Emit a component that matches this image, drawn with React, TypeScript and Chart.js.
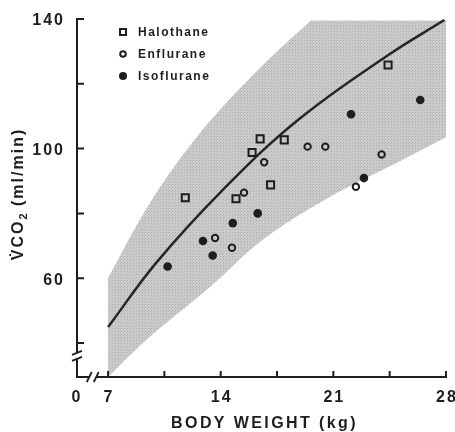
import React, { useEffect, useRef } from "react";
import { Chart, registerables } from "chart.js";

Chart.register(...registerables);

// ---------- data ----------
const halothaneWeight = [11.8, 14.95, 15.95, 16.45, 17.1, 17.95, 24.4];
const halothaneVco2 = [84.8, 84.5, 98.8, 103, 88.8, 102.7, 125.8];

const enfluraneWeight = [13.65, 14.7, 15.45, 16.7, 19.4, 20.5, 22.4, 24.0];
const enfluraneVco2 = [72.4, 69.4, 86.4, 95.8, 100.6, 100.6, 88.2, 98.2];

const isofluraneWeight = [10.7, 12.9, 13.5, 14.75, 16.3, 22.1, 22.9, 26.4];
const isofluraneVco2 = [63.6, 71.5, 67, 77, 80, 110.6, 90.9, 115];

const curveWeight = [7, 10, 14, 18.8, 24.3, 27.9];
const curveVco2 = [44.9, 64.8, 86.6, 108.8, 128.5, 139.7];

const bandUpperWeight = [7, 9.6, 12.5, 16, 19.6, 19.7, 28];
const bandUpperVco2 = [60.1, 83.2, 103.5, 122.7, 139.5, 139.5, 139.5];

const bandLowerWeight = [7, 9.6, 13.34, 16.6, 20.8, 24.95, 28];
const bandLowerVco2 = [29.5, 41.9, 57.3, 71.8, 85.1, 95.6, 103.5];

const seriesNames = ["Halothane", "Enflurane", "Isoflurane"];

const xMin = 5.07;
const xMax = 28;
const yMin = 29.5;
const yMax = 140;
const xOriginLabel = "0";
const xTickValues = [7, 14, 21, 28];
const xTickLabels = ["7", "14", "21", "28"];
const xMinorTicks = [10.5, 17.5, 24.5];
const yTickValues = [60, 100, 140];
const yTickLabels = ["60", "100", "140"];
const yMinorTicks = [40, 80, 120];
const xBreakValue = 6.05;
const yBreakValue = 36;
const xTitle = "BODY WEIGHT (kg)";
const yTitleMain = "V\u0307CO";
const yTitleSub = "2";
const yTitleUnit = " (ml/min)";

const INK = "#1e1e1e";
const FONT = '"Liberation Sans", Arial, sans-serif';

function pts(xs: number[], ys: number[]) {
  return xs.map((x, i) => ({ x, y: ys[i] }));
}

function makePattern(): CanvasPattern | string {
  const c = document.createElement("canvas");
  c.width = 3;
  c.height = 3;
  const g = c.getContext("2d");
  if (!g) return "#c6c6c6";
  g.fillStyle = "#cbcbcb";
  g.fillRect(0, 0, 3, 3);
  g.fillStyle = "#acacac";
  g.fillRect(1, 1, 1, 1);
  g.fillStyle = "#bdbdbd";
  g.fillRect(0, 2, 1, 1);
  const p = g.createPattern(c, "repeat");
  return p || "#c6c6c6";
}

function setSpacing(ctx: any, s: string) {
  try {
    ctx.letterSpacing = s;
  } catch (e) {}
}

const axesPlugin = {
  id: "customAxes",
  afterDraw(chart: any) {
    const ctx: CanvasRenderingContext2D = chart.ctx;
    const xs = chart.scales.x;
    const ys = chart.scales.y;
    const { left, right, bottom } = chart.chartArea;
    ctx.save();
    ctx.strokeStyle = INK;
    ctx.fillStyle = INK;
    ctx.lineWidth = 2;
    ctx.lineCap = "butt";

    // y axis with break
    const yb = ys.getPixelForValue(yBreakValue);
    const yTop = ys.getPixelForValue(yMax);
    ctx.beginPath();
    ctx.moveTo(left, yTop - 1);
    ctx.lineTo(left, yb - 3);
    ctx.moveTo(left, yb + 3);
    ctx.lineTo(left, bottom + 1);
    ctx.stroke();
    ctx.lineWidth = 1.8;
    ctx.beginPath();
    ctx.moveTo(left - 5, yb - 1);
    ctx.lineTo(left + 5, yb - 5);
    ctx.moveTo(left - 5, yb + 5);
    ctx.lineTo(left + 5, yb + 1);
    ctx.stroke();

    // x axis with break
    const xb = xs.getPixelForValue(xBreakValue);
    ctx.lineWidth = 2;
    ctx.beginPath();
    ctx.moveTo(left - 1, bottom);
    ctx.lineTo(xb - 3, bottom);
    ctx.moveTo(xb + 3, bottom);
    ctx.lineTo(right + 1, bottom);
    ctx.stroke();
    ctx.lineWidth = 1.8;
    ctx.beginPath();
    ctx.moveTo(xb - 6, bottom + 5);
    ctx.lineTo(xb - 1, bottom - 5);
    ctx.moveTo(xb + 1, bottom + 5);
    ctx.lineTo(xb + 6, bottom - 5);
    ctx.stroke();

    // ticks
    ctx.lineWidth = 2;
    ctx.beginPath();
    [...yTickValues, ...yMinorTicks].forEach((v) => {
      const py = ys.getPixelForValue(v);
      ctx.moveTo(left, py);
      ctx.lineTo(left + 7, py);
    });
    [...xTickValues, ...xMinorTicks].forEach((v) => {
      const px = xs.getPixelForValue(v);
      ctx.moveTo(px, bottom);
      ctx.lineTo(px, bottom - 6);
    });
    ctx.stroke();

    // tick labels
    ctx.font = `bold 16px ${FONT}`;
    setSpacing(ctx, "2px");
    ctx.textBaseline = "middle";
    ctx.textAlign = "right";
    yTickValues.forEach((v, i) => {
      const py = ys.getPixelForValue(v);
      ctx.fillText(yTickLabels[i], left + 1 - 13, py + 2);
    });
    ctx.textAlign = "center";
    xTickValues.forEach((v, i) => {
      const px = xs.getPixelForValue(v);
      ctx.fillText(xTickLabels[i], px + 1, bottom + 21);
    });
    ctx.fillText(xOriginLabel, xs.getPixelForValue(xMin), bottom + 21);

    // x title
    setSpacing(ctx, "2.4px");
    ctx.fillText(xTitle, (left + right) / 2 + 3, bottom + 47);

    // y title (rotated)
    ctx.save();
    ctx.translate(19, 194);
    ctx.rotate(-Math.PI / 2);
    ctx.textAlign = "left";
    ctx.textBaseline = "middle";
    ctx.font = `bold 16px ${FONT}`;
    setSpacing(ctx, "2px");
    const w1 = ctx.measureText(yTitleMain).width;
    ctx.font = `bold 11px ${FONT}`;
    setSpacing(ctx, "1px");
    const w2 = ctx.measureText(yTitleSub).width;
    ctx.font = `bold 16px ${FONT}`;
    setSpacing(ctx, "2px");
    const w3 = ctx.measureText(yTitleUnit).width;
    let sx = -(w1 + w2 + w3) / 2;
    ctx.fillText(yTitleMain, sx, 0);
    sx += w1;
    ctx.font = `bold 11px ${FONT}`;
    setSpacing(ctx, "1px");
    ctx.fillText(yTitleSub, sx, 5);
    sx += w2;
    ctx.font = `bold 16px ${FONT}`;
    setSpacing(ctx, "2px");
    ctx.fillText(yTitleUnit, sx, 0);
    ctx.restore();

    // legend
    const lx = 123;
    const ly = [32, 54, 76];
    ctx.lineWidth = 2;
    ctx.strokeStyle = INK;
    ctx.strokeRect(lx - 3, ly[0] - 3, 6, 6);
    ctx.beginPath();
    ctx.arc(lx, ly[1], 2.8, 0, Math.PI * 2);
    ctx.stroke();
    ctx.beginPath();
    ctx.arc(lx, ly[2], 4, 0, Math.PI * 2);
    ctx.fill();
    ctx.font = `bold 12px ${FONT}`;
    setSpacing(ctx, "1.5px");
    ctx.textAlign = "left";
    ctx.textBaseline = "middle";
    seriesNames.forEach((n, i) => ctx.fillText(n, 138, ly[i] + 1));

    ctx.restore();
  },
};

export default function App() {
  const ref = useRef<HTMLCanvasElement | null>(null);
  useEffect(() => {
    if (!ref.current) return;
    const pattern = makePattern();
    const chart = new Chart(ref.current, {
      type: "line",
      data: {
        datasets: [
          {
            label: "Isoflurane",
            data: pts(isofluraneWeight, isofluraneVco2),
            showLine: false,
            pointStyle: "circle",
            pointRadius: 4.3,
            pointBorderWidth: 0,
            pointBackgroundColor: INK,
            pointBorderColor: INK,
            order: 0,
          } as any,
          {
            label: "Enflurane",
            data: pts(enfluraneWeight, enfluraneVco2),
            showLine: false,
            pointStyle: "circle",
            pointRadius: 3.2,
            pointBorderWidth: 2,
            pointBackgroundColor: "rgba(0,0,0,0)",
            pointBorderColor: INK,
            order: 0,
          },
          {
            label: "Halothane",
            data: pts(halothaneWeight, halothaneVco2),
            showLine: false,
            pointStyle: "rect",
            pointRadius: 5,
            pointBorderWidth: 2,
            pointBackgroundColor: "rgba(0,0,0,0)",
            pointBorderColor: INK,
            order: 0,
          },
          {
            label: "Mean",
            data: pts(curveWeight, curveVco2),
            borderColor: "#262626",
            borderWidth: 2.5,
            pointRadius: 0,
            tension: 0.4,
            fill: false,
            order: 1,
          },
          {
            label: "Upper",
            data: pts(bandUpperWeight, bandUpperVco2),
            borderWidth: 0,
            borderColor: "rgba(0,0,0,0)",
            pointRadius: 0,
            tension: 0.35,
            backgroundColor: pattern as any,
            fill: "+1",
            order: 2,
          },
          {
            label: "Lower",
            data: pts(bandLowerWeight, bandLowerVco2),
            borderWidth: 0,
            borderColor: "rgba(0,0,0,0)",
            pointRadius: 0,
            tension: 0.35,
            fill: false,
            order: 3,
          },
        ],
      },
      options: {
        responsive: false,
        animation: false,
        events: [],
        layout: { padding: { left: 77, top: 19, right: 9, bottom: 55 } },
        scales: {
          x: { type: "linear", min: xMin, max: xMax, display: false },
          y: { type: "linear", min: yMin, max: yMax, display: false },
        },
        plugins: {
          legend: { display: false },
          tooltip: { enabled: false },
        },
      },
      plugins: [axesPlugin],
    });
    return () => chart.destroy();
  }, []);
  return (
    <div style={{ position: "fixed", left: 0, top: 0, width: 455, height: 432, background: "#fff" }}>
      <canvas ref={ref} width={455} height={432} />
    </div>
  );
}
